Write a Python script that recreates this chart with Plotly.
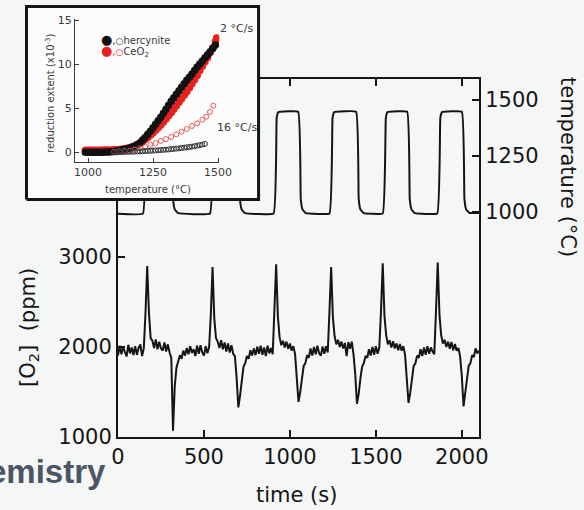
import plotly.graph_objects as go

# ---------------- main panel data ----------------
# O2 concentration sampled every 10 s (ppm)
o2_time = list(range(0, 2101, 10))
o2_ppm = [
    1905, 2015, 1920, 2000, 1945, 1895, 2025, 1930, 1995, 1910,   # 0-90
    2010, 1915, 1990, 2030, 1900, 1985, 2380, 2900, 2380, 2100,   # 100-190
    2070, 1990, 2085, 1975, 2060, 1985, 1960, 2050, 1950, 2030,   # 200-290
    1940, 1880, 1070, 1560, 1770, 1860, 1910, 1870, 1960, 1905,   # 300-390
    1990, 1920, 2010, 1935, 1975, 1900, 2015, 1925, 2020, 1940,   # 400-490
    1905, 2010, 1930, 2000, 2360, 2890, 2320, 2100, 2060, 1990,   # 500-590
    2075, 1975, 2050, 1950, 2040, 1940, 2020, 1925, 1900, 1660,   # 600-690
    1330, 1460, 1640, 1780, 1820, 1900, 1870, 1965, 1905, 1985,   # 700-790
    1910, 2005, 1925, 2015, 1915, 1995, 1900, 2015, 1930, 1990,   # 800-890
    1920, 2380, 2920, 2340, 2110, 2020, 2070, 1995, 2060, 1980,   # 900-990
    2040, 1960, 2010, 1920, 1700, 1390, 1500, 1660, 1790, 1820,   # 1000-1090
    1910, 1880, 1985, 1905, 2000, 1920, 2015, 1930, 1905, 2005,   # 1100-1190
    1925, 2010, 1940, 2390, 2890, 2330, 2120, 2030, 2080, 2000,   # 1200-1290
    2060, 1985, 2045, 1900, 2055, 1980, 2060, 1920, 1700, 1370,   # 1300-1390
    1480, 1650, 1780, 1820, 1900, 1880, 1975, 1905, 2000, 1915,   # 1400-1490
    2010, 1925, 1995, 2400, 2930, 2350, 2130, 2030, 2075, 1995,   # 1500-1590
    2065, 1985, 2040, 1965, 2035, 1960, 2010, 1910, 1690, 1380,   # 1600-1690
    1490, 1650, 1790, 1820, 1905, 1880, 1975, 1900, 1995, 1915,   # 1700-1790
    2010, 1925, 1995, 1950, 1920, 2410, 2940, 2360, 2130, 2040,   # 1800-1890
    2080, 2000, 2060, 1980, 2055, 1965, 2035, 1960, 1990, 1900,   # 1900-1990
    1680, 1340, 1470, 1640, 1790, 1820, 1910, 1890, 1985, 1930,   # 2000-2090
    1960,                                                         # 2100
]

# furnace temperature program (°C)
temp_time = [0, 145, 163, 173, 305, 320, 330, 350,
             535, 553, 563, 694, 709, 719, 739,
             905, 923, 933, 1048, 1063, 1073, 1093,
             1230, 1248, 1258, 1385, 1400, 1410, 1430,
             1540, 1558, 1568, 1682, 1697, 1707, 1727,
             1857, 1875, 1885, 2000, 2015, 2025, 2045, 2100]
temp_C = [993, 993, 1420, 1446, 1448, 1060, 1012, 995,
          994, 1420, 1446, 1448, 1060, 1012, 995,
          994, 1420, 1446, 1448, 1060, 1012, 995,
          994, 1420, 1446, 1448, 1060, 1012, 995,
          994, 1420, 1446, 1448, 1060, 1012, 995,
          994, 1420, 1446, 1448, 1060, 1012, 996, 996]

time_ticks = [0, 500, 1000, 1500, 2000]
o2_ticks = [1000, 2000, 3000]
temp_ticks = [1000, 1250, 1500]

# ---------------- inset data: reduction extent (x10^-3) ----------------
herc_fast_T = [990, 1000, 1010, 1020, 1030, 1040, 1050, 1060, 1070, 1080,
               1090, 1100, 1110, 1120, 1130, 1140, 1150, 1160, 1170, 1180,
               1190, 1200, 1210, 1220, 1230, 1240, 1250, 1260, 1270, 1280,
               1290, 1300, 1310, 1320, 1330, 1340, 1350, 1360, 1370, 1380,
               1390, 1400, 1410, 1420, 1430, 1440, 1450, 1460, 1470, 1480, 1490]
herc_fast = [0.0, 0.0, 0.0, 0.0, 0.0, 0.0, 0.0, 0.0, 0.05, 0.05,
             0.08, 0.1, 0.15, 0.2, 0.28, 0.35, 0.42, 0.5, 0.6, 0.7,
             0.9, 1.1, 1.4, 1.7, 2.05, 2.4, 2.8, 3.2, 3.6, 4.0,
             4.45, 4.9, 5.35, 5.8, 6.2, 6.6, 7.0, 7.4, 7.8, 8.2,
             8.55, 8.9, 9.3, 9.7, 10.05, 10.4, 10.75, 11.1, 11.45, 11.8, 12.2]

ceo2_fast_T = [990, 1000, 1010, 1020, 1030, 1040, 1050, 1060, 1070, 1080,
               1090, 1100, 1110, 1120, 1130, 1140, 1150, 1160, 1170, 1180,
               1190, 1200, 1210, 1220, 1230, 1240, 1250, 1260, 1270, 1280,
               1290, 1300, 1310, 1320, 1330, 1340, 1350, 1360, 1370, 1380,
               1390, 1400, 1410, 1420, 1430, 1440, 1450, 1460, 1470, 1480,
               1490, 1495]
ceo2_fast = [0.25, 0.25, 0.25, 0.25, 0.25, 0.25, 0.25, 0.26, 0.26, 0.27,
             0.27, 0.28, 0.3, 0.32, 0.35, 0.4, 0.45, 0.5, 0.6, 0.75,
             0.9, 1.0, 1.2, 1.45, 1.7, 1.95, 2.2, 2.5, 2.8, 3.1,
             3.45, 3.8, 4.15, 4.5, 4.9, 5.3, 5.7, 6.1, 6.5, 6.9,
             7.35, 7.8, 8.25, 8.75, 9.3, 9.8, 10.3, 10.8, 11.35, 11.9,
             12.6, 13.0]

ceo2_slow_T = [1100, 1120, 1140, 1160, 1180, 1200, 1220, 1240, 1260, 1280,
               1300, 1320, 1340, 1360, 1380, 1400, 1420, 1440, 1455, 1469, 1482]
ceo2_slow = [0.05, 0.1, 0.15, 0.2, 0.3, 0.45, 0.6, 0.85, 1.05, 1.3,
             1.5, 1.75, 2.05, 2.35, 2.65, 3.0, 3.3, 3.7, 4.05, 4.6, 5.3]

herc_slow_T = [1100, 1110, 1120, 1130, 1140, 1150, 1160, 1170, 1180, 1190,
               1200, 1210, 1220, 1230, 1240, 1250, 1260, 1270, 1280, 1290,
               1300, 1310, 1320, 1330, 1340, 1350, 1360, 1370, 1380, 1390,
               1400, 1410, 1420, 1430, 1440, 1450]
herc_slow = [0.0, 0.0, 0.02, 0.03, 0.04, 0.05, 0.06, 0.07, 0.08, 0.09,
             0.1, 0.12, 0.14, 0.16, 0.18, 0.2, 0.22, 0.24, 0.26, 0.28,
             0.3, 0.33, 0.36, 0.39, 0.42, 0.45, 0.49, 0.53, 0.57, 0.61,
             0.65, 0.7, 0.76, 0.82, 0.88, 0.95]

inset_T_ticks = [1000, 1250, 1500]
inset_y_ticks = [0, 5, 10, 15]

# ---------------- styling ----------------
W, H = 584, 510
FONT = "DejaVu Sans"
INK = "#151515"
INSET_INK = "#3a3a3a"
RED = "#e8211f"
BG = "#f5f6f6"


def px(x):
    return x / W


def py(y):
    return 1 - y / H


fig = go.Figure()

# main panel traces
fig.add_trace(go.Scatter(x=o2_time, y=o2_ppm, mode="lines",
                         line=dict(color=INK, width=2),
                         xaxis="x", yaxis="y", showlegend=False))
fig.add_trace(go.Scatter(x=temp_time, y=temp_C, mode="lines",
                         line=dict(color=INK, width=2, shape="spline", smoothing=0.25),
                         xaxis="x", yaxis="y2", showlegend=False))

# inset frame (white card with heavy border)
fig.add_trace(go.Scatter(x=[0, 1, 1, 0, 0], y=[0, 0, 1, 1, 0], mode="lines",
                         fill="toself", fillcolor="#fcfcfc",
                         line=dict(color=INK, width=3),
                         xaxis="x2", yaxis="y3", showlegend=False, hoverinfo="skip"))

# inset traces
fig.add_trace(go.Scatter(x=ceo2_fast_T, y=ceo2_fast, mode="markers",
                         marker=dict(color=RED, size=7.5),
                         xaxis="x3", yaxis="y4", showlegend=False))
fig.add_trace(go.Scatter(x=herc_fast_T, y=herc_fast, mode="markers",
                         marker=dict(color="#111111", size=7.5),
                         xaxis="x3", yaxis="y4", showlegend=False))
fig.add_trace(go.Scatter(x=ceo2_slow_T, y=ceo2_slow, mode="markers",
                         marker=dict(symbol="circle-open", color="#ee5a5a", size=5,
                                     line=dict(width=1)),
                         xaxis="x3", yaxis="y4", showlegend=False))
fig.add_trace(go.Scatter(x=herc_slow_T, y=herc_slow, mode="markers",
                         marker=dict(symbol="circle-open", color="#333333", size=5,
                                     line=dict(width=1)),
                         xaxis="x3", yaxis="y4", showlegend=False))

main_tick_font = dict(family=FONT, size=21, color=INK)
inset_tick_font = dict(family=FONT, size=11, color=INSET_INK)

common = dict(showgrid=False, zeroline=False, automargin=False)

fig.update_layout(
    template="none",
    width=W, height=H, autosize=False,
    margin=dict(l=0, r=0, t=0, b=0, pad=0),
    paper_bgcolor=BG, plot_bgcolor="rgba(0,0,0,0)",
    showlegend=False,
    xaxis=dict(domain=[px(118), px(479)], range=[0, 2100], anchor="y",
               tickvals=time_ticks, ticks="inside", ticklen=7, tickwidth=2,
               tickcolor=INK, showline=True, linecolor=INK, linewidth=2,
               mirror="ticks", tickfont=main_tick_font, **common),
    yaxis=dict(domain=[py(437), py(79)], range=[1000, 4980], anchor="x",
               tickvals=o2_ticks, ticks="inside", ticklen=7, tickwidth=2,
               tickcolor=INK, showline=True, linecolor=INK, linewidth=2,
               tickfont=main_tick_font, **common),
    yaxis2=dict(overlaying="y", side="right", anchor="x", range=[-4, 1594],
                tickvals=temp_ticks, ticks="inside", ticklen=7, tickwidth=2,
                tickcolor=INK, showline=True, linecolor=INK, linewidth=2,
                tickfont=main_tick_font, **common),
    xaxis2=dict(domain=[0.03743, 0.4507], range=[-0.02, 1.02], anchor="y3",
                visible=False, fixedrange=True, **common),
    yaxis3=dict(domain=[0.6013, 0.9948], range=[-0.02, 1.02], anchor="x2",
                visible=False, fixedrange=True, **common),
    xaxis3=dict(domain=[px(75), px(219.3)], range=[950, 1505], anchor="y4",
                tickvals=inset_T_ticks, ticks="inside", ticklen=4, tickwidth=1,
                tickcolor=INSET_INK, showline=True, linecolor=INSET_INK, linewidth=1.3,
                tickfont=inset_tick_font, **common),
    yaxis4=dict(domain=[py(162), py(18.7)], range=[-1.1, 15.2], anchor="x3",
                tickvals=inset_y_ticks, ticks="inside", ticklen=4, tickwidth=1,
                tickcolor=INSET_INK, showline=True, linecolor=INSET_INK, linewidth=1.3,
                tickfont=inset_tick_font, **common),
)


def label(text, x, y, size, color, angle=0, xanchor="center", family=FONT, weight="normal"):
    return dict(text=text, x=px(x), y=py(y), xref="paper", yref="paper",
                xanchor=xanchor, yanchor="middle", textangle=angle, showarrow=False,
                font=dict(family=family, size=size, color=color, weight=weight))


ann = [
    # main axis titles
    label("time (s)", 296, 495, 21, INK),
    label("[O<sub>2</sub>]  (ppm)", 29, 328, 21, INK, angle=-90),
    label("temperature (°C)", 568, 167, 21, INK, angle=90),
    # inset labels
    label("reduction extent (x10<sup>-3</sup>)", 50, 93, 10, INSET_INK, angle=-90),
    label("temperature (°C)", 148, 189, 10, INSET_INK),
    label("2 °C/s", 236, 28, 11, INSET_INK),
    label("16 °C/s", 237, 127, 11, INSET_INK),
    label("<span style='font-size:13px;color:#111111'>●</span>,"
          "<span style='font-size:9px'>○</span>hercynite",
          99, 40, 10, INSET_INK, xanchor="left"),
    label(f"<span style='font-size:13px;color:{RED}'>●</span>"
          f"<span style='color:{RED}'>,</span>"
          f"<span style='font-size:9px;color:{RED}'>○</span>CeO<sub>2</sub>",
          99, 51, 10, INSET_INK, xanchor="left"),
    # slide heading fragment at the lower left
    label("emistry", 108, 471, 33, "#4b5563", xanchor="right",
          family="Liberation Sans", weight="bold"),
]
fig.update_layout(annotations=ann)

fig.write_html("out.html")
